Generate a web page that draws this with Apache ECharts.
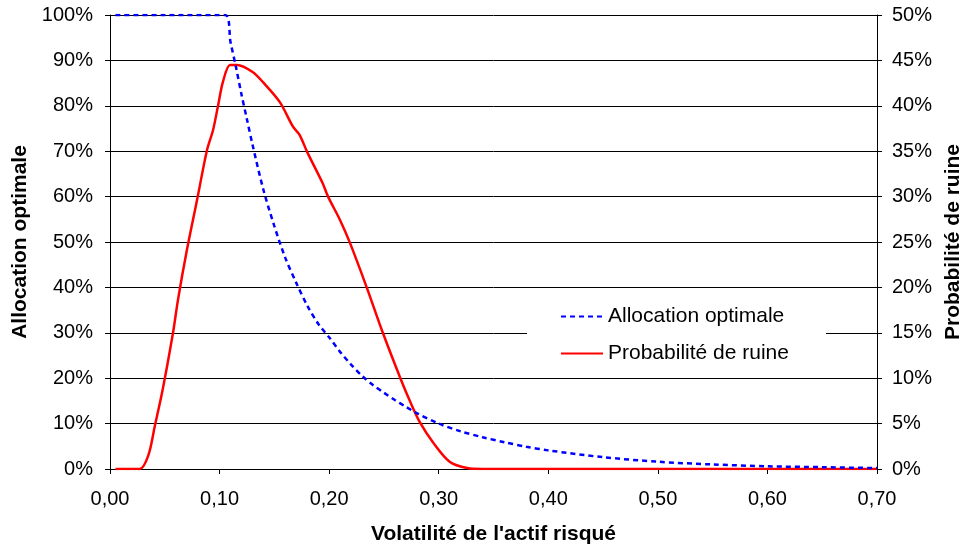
<!DOCTYPE html>
<html>
<head>
<meta charset="utf-8">
<script src="https://cdn.jsdelivr.net/npm/echarts@6/dist/echarts.min.js"></script>
<style>
  html, body { margin: 0; padding: 0; background: #fff; }
</style>
</head>
<body>
<div id="chart" style="width:962px;height:547px;"></div>
<script>
  // volatilité (x) et allocation optimale (%)
  var allocVol = [0.005, 0.05, 0.105, 0.11, 0.115, 0.12, 0.125, 0.13, 0.14, 0.15, 0.16, 0.17, 0.18, 0.19, 0.20,
    0.21, 0.22, 0.23, 0.24, 0.25, 0.26, 0.27, 0.28, 0.30, 0.32, 0.34, 0.36, 0.38, 0.40, 0.45, 0.50, 0.55, 0.60, 0.65, 0.70]
  var allocVal = [100, 100, 100, 94, 88.5, 82.5, 77, 71.5, 61.5, 53.5, 46.5, 41, 36, 32, 29,
    25.8, 23, 20.5, 18.5, 16.8, 15.2, 13.7, 12.3, 10, 8.3, 7, 5.9, 4.9, 4.1, 2.6, 1.6, 1.0, 0.6, 0.4, 0.2]

  // volatilité (x) et probabilité de ruine (%)
  var ruineVol = [0.005, 0.027, 0.035, 0.041, 0.048, 0.0575, 0.062, 0.07, 0.0794, 0.0885, 0.094, 0.0986, 0.103, 0.1095, 0.116,
    0.1305, 0.1396, 0.155, 0.167, 0.173, 0.18, 0.194, 0.199, 0.21, 0.219, 0.2346, 0.249, 0.265, 0.274, 0.283,
    0.295, 0.31, 0.326, 0.34, 0.40, 0.50, 0.60, 0.70]
  var ruineVal = [0, 0, 1.5, 4.8, 8.7, 15, 18.6, 24, 29.6, 35.1, 37.3, 40, 42.6, 44.5, 44.5,
    43.7, 42.6, 40.4, 37.7, 36.8, 34.9, 31.5, 30, 27.4, 24.9, 19.9, 15, 10, 7.4, 5.1,
    2.9, 0.8, 0.1, 0, 0, 0, 0, 0]

  var font = 'Liberation Sans, Arial, sans-serif'

  function pairs(xs, ys) {
    var out = []
    for (var i = 0; i < xs.length; i++) out.push([xs[i], ys[i]])
    return out
  }

  var chart = echarts.init(document.getElementById('chart'))
  chart.setOption({
    animation: false,
    textStyle: { fontFamily: font, color: '#000' },
    grid: { left: 110, right: 85, top: 15, bottom: 78, outerBoundsMode: 'none', containLabel: false },
    legend: {
      orient: 'vertical',
      left: 527,
      top: 294,
      padding: [12, 37, 12, 33],
      backgroundColor: '#fff',
      itemWidth: 42,
      itemHeight: 14,
      itemGap: 16,
      itemStyle: { opacity: 0 },
      textStyle: { fontSize: 21, color: '#000', fontFamily: font },
      data: ['Allocation optimale', 'Probabilité de ruine']
    },
    xAxis: {
      type: 'value',
      min: 0,
      max: 0.7,
      interval: 0.1,
      name: "Volatilité de l'actif risqué",
      nameLocation: 'middle',
      nameGap: 55,
      nameTextStyle: { fontSize: 21, fontWeight: 'bold', color: '#000' },
      axisLine: { lineStyle: { color: '#000', width: 1 } },
      axisTick: { inside: false, length: 5, lineStyle: { color: '#000' } },
      axisLabel: {
        fontSize: 20, color: '#000', margin: 20,
        formatter: function (v) { return v.toFixed(2).replace('.', ',') }
      },
      splitLine: { show: false }
    },
    yAxis: [
      {
        type: 'value',
        min: 0,
        max: 100,
        interval: 10,
        name: 'Allocation optimale',
        nameLocation: 'middle',
        nameGap: 78,
        nameTextStyle: { fontSize: 21, fontWeight: 'bold', color: '#000' },
        axisLine: { show: true, lineStyle: { color: '#000', width: 1 } },
        axisTick: { show: true, length: 5, lineStyle: { color: '#000' } },
        axisLabel: { fontSize: 20, color: '#000', margin: 17, formatter: '{value}%' },
        splitLine: { show: true, lineStyle: { color: '#000', width: 1 } }
      },
      {
        type: 'value',
        min: 0,
        max: 50,
        interval: 5,
        name: 'Probabilité de ruine',
        nameLocation: 'middle',
        nameGap: 60,
        nameRotate: 90,
        nameTextStyle: { fontSize: 21, fontWeight: 'bold', color: '#000' },
        axisLine: { show: true, lineStyle: { color: '#000', width: 1 } },
        axisTick: { show: true, length: 5, lineStyle: { color: '#000' } },
        axisLabel: { fontSize: 20, color: '#000', margin: 15, formatter: '{value}%' },
        splitLine: { show: false }
      }
    ],
    series: [
      {
        name: 'Probabilité de ruine',
        type: 'line',
        yAxisIndex: 1,
        symbol: 'none',
        smooth: 0.3,
        lineStyle: { color: '#ff0000', width: 2.5 },
        itemStyle: { color: '#ff0000' },
        data: pairs(ruineVol, ruineVal),
        z: 2
      },
      {
        name: 'Allocation optimale',
        type: 'line',
        yAxisIndex: 0,
        symbol: 'none',
        smooth: 0.3,
        lineStyle: { color: '#0000ff', width: 2.5, type: [5, 4] },
        itemStyle: { color: '#0000ff' },
        data: pairs(allocVol, allocVal),
        z: 3
      }
    ]
  })
</script>
</body>
</html>
